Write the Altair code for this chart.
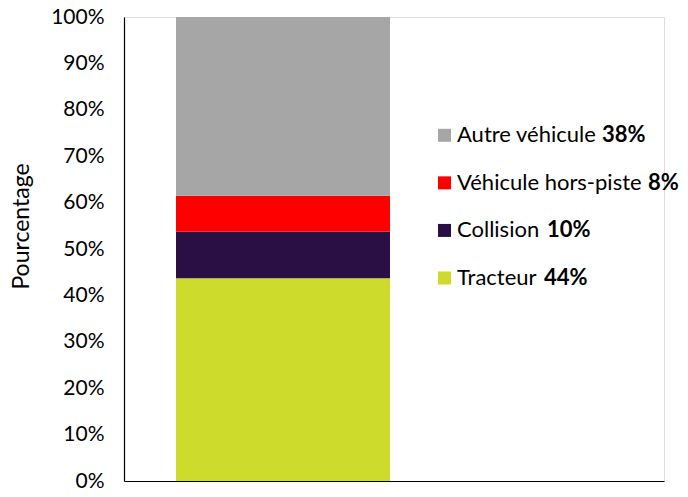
import altair as alt
import pandas as pd

# ---- data ----
categories = ["Tracteur", "Collision", "Véhicule hors-piste", "Autre véhicule"]
values = [43.7, 10.0, 7.8, 38.5]          # percent, bottom -> top
labels_pct = ["44%", "10%", "8%", "38%"]
colors = ["#CCDB2C", "#2A0F44", "#FF0000", "#A6A6A6"]
y_ticks = [0, 10, 20, 30, 40, 50, 60, 70, 80, 90, 100]

df = pd.DataFrame({
    "cat": categories,
    "val": [v / 100 for v in values],
    "pct": labels_pct,
    "ord": list(range(len(categories))),
    "grp": ["Causes"] * len(categories),
})

legend_order = list(reversed(categories))  # top -> bottom
FONT = "Lato"

# layout (not data): offset of the bold percentage after each legend name
bold_dx = {"Autre véhicule": 145, "Véhicule hors-piste": 191, "Collision": 90, "Tracteur": 87}

color_scale = alt.Scale(domain=categories, range=colors)

bars = alt.Chart(df).mark_bar().encode(
    x=alt.X("grp:N", title=None,
            scale=alt.Scale(paddingInner=0, paddingOuter=0.7617, align=0.1595),
            axis=alt.Axis(orient="bottom", labels=False, ticks=False, domainColor="black",
                          domainWidth=1.2, grid=False)),
    y=alt.Y("val:Q", stack="zero",
            scale=alt.Scale(domain=[0, 1], nice=False),
            axis=alt.Axis(orient="left", values=[t / 100 for t in y_ticks], format=".0%", ticks=False,
                          grid=False, domainColor="black", domainWidth=1.2,
                          labelFont=FONT, labelFontSize=21, labelColor="black", labelPadding=20,
                          title="Pourcentage", titleFont=FONT, titleFontSize=23, titleFontWeight="normal",
                          titleColor="black", titleX=-96, titleY=209, titleAngle=-90,
                          titleAlign="center", titleBaseline="alphabetic")),
    color=alt.Color("cat:N", scale=color_scale, legend=None),
    order=alt.Order("ord:Q", sort="ascending"),
)

leg_y = alt.Y("cat:N", sort=legend_order, axis=None,
              scale=alt.Scale(type="point", padding=0, range=[118.3, 261]))

squares = alt.Chart(df).mark_square(size=169, opacity=1, filled=True).encode(
    x=alt.value(320.5),
    y=leg_y,
    color=alt.Color("cat:N", scale=color_scale, legend=None),
)

names = alt.Chart(df).mark_text(align="left", baseline="middle", font=FONT, fontSize=22,
                                color="black").encode(
    x=alt.value(333),
    y=leg_y,
    text="cat:N",
)

bold_layers = []
for c in categories:
    bold_layers.append(
        alt.Chart(df).transform_filter(alt.datum.cat == c).mark_text(
            align="left", baseline="middle", font=FONT, fontSize=22, fontWeight="bold",
            color="black", dx=bold_dx[c]).encode(
            x=alt.value(333),
            y=leg_y,
            text="pct:N",
        )
    )

legend_layer = alt.layer(squares, names, *bold_layers)

chart = alt.layer(bars, legend_layer).resolve_scale(y="independent", x="independent").properties(
    width=540, height=464,
    autosize=alt.AutoSizeParams(type="none"),
    padding={"left": 116, "top": 9, "right": 16, "bottom": 8},
).configure_view(stroke=None).configure(background="white")

chart.save("out.html", embed_options={"renderer": "svg", "actions": False})
